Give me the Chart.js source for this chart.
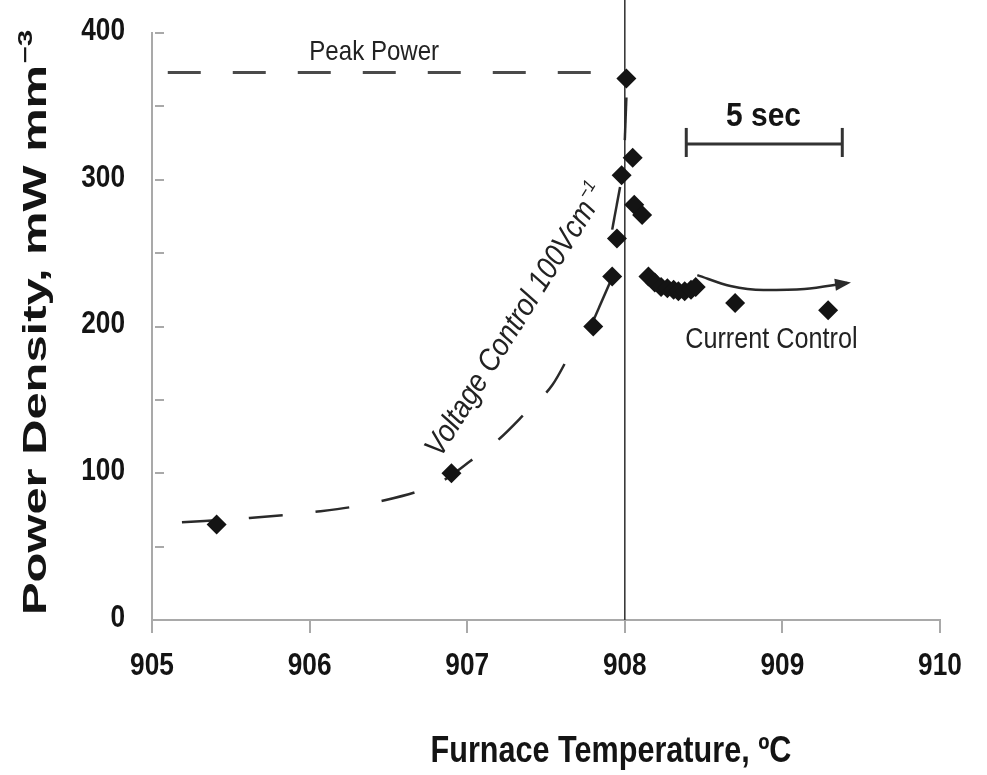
<!DOCTYPE html>
<html>
<head>
<meta charset="utf-8">
<title>Power density vs furnace temperature</title>
<script src="https://cdn.jsdelivr.net/npm/chart.js@4.4.1/dist/chart.umd.min.js"></script>
<style>
  html, body { margin: 0; padding: 0; background: #fff; }
  #wrap { width: 987px; height: 775px; }
</style>
</head>
<body>
<div id="wrap"><canvas id="powerChart" width="987" height="775"></canvas></div>
<script>
// measured points: furnace temperature (C) and power density (mW mm^-3)
const tempC = [905.41, 906.90, 907.80, 907.92, 907.95, 907.98, 908.01, 908.05, 908.06, 908.11,
  908.15, 908.19, 908.23, 908.27, 908.31, 908.34, 908.38, 908.42, 908.45, 908.70, 909.29];
const powerDensity = [65, 100, 200, 234, 260, 303, 369, 315, 283, 276,
  234, 230, 227, 226, 225, 224, 224, 225, 227, 216, 211];

// peak power level
const peakPowerX = [905.10, 907.79];
const peakPowerY = [373, 373];

// voltage control trend (dashed) and the solid pieces near the peak
const voltageX = [905.19, 905.62, 906.03, 906.43, 906.83, 907.02, 907.21, 907.37, 907.54, 907.67];
const voltageY = [66.6, 69.5, 73.6, 80.4, 94.0, 108.3, 124.0, 141.1, 160.1, 185.0];
const rampSegX = [[907.80, 907.91], [907.92, 907.97], [908.00, 908.01]];
const rampSegY = [[204, 231], [266, 295], [327, 356]];

// current control arrow
const currentX = [908.46, 908.67, 908.88, 909.14, 909.41];
const currentY = [235, 227.6, 224.9, 225.6, 229.6];

// 5 sec scale bar
const scaleBarX = [908.39, 909.38];
const scaleBarY = 324.4;
const scaleBarCap = [315.5, 335.3];

// switch from voltage to current control
const switchTemp = 908.0;

const xTicks = [905, 906, 907, 908, 909, 910];
const yMin = 0, yMax = 400, yStep = 50, yLabelStep = 100;

// no condensed font installed, so text is squeezed with a transform
const FONT = '"Liberation Sans", Arial, sans-serif';
const INK = '#141414';
const AXIS = '#a9a9a9';

const toXY = (xs, ys) => xs.map((x, i) => ({ x: x, y: Array.isArray(ys) ? ys[i] : ys }));

function lineSet(data, color, width, dash) {
  return {
    type: 'line',
    data: data,
    borderColor: color,
    borderWidth: width,
    borderDash: dash || [],
    pointRadius: 0,
    fill: false,
    showLine: true
  };
}

// text with horizontal squeeze sx
function squeezed(ctx, txt, x, y, font, sx, align, baseline) {
  ctx.save();
  ctx.translate(x, y);
  ctx.scale(sx, 1);
  ctx.font = font;
  ctx.textAlign = align || 'center';
  ctx.textBaseline = baseline || 'middle';
  ctx.fillText(txt, 0, 0);
  ctx.restore();
}

const datasets = [
  {
    type: 'scatter',
    data: toXY(tempC, powerDensity),
    pointStyle: 'rectRot',
    pointRadius: 10,
    backgroundColor: INK,
    borderColor: INK,
    borderWidth: 0
  },
  lineSet(toXY(peakPowerX, peakPowerY), '#4a4a4a', 3, [33, 32]),
  Object.assign(lineSet(toXY(voltageX, voltageY), '#2a2a2a', 2.5, [34, 33]), { cubicInterpolationMode: 'monotone' }),
  ...rampSegX.map((sx, i) => lineSet(toXY(sx, rampSegY[i]), '#2a2a2a', 2.5)),
  Object.assign(lineSet(toXY(currentX, currentY), '#2a2a2a', 2.5), { cubicInterpolationMode: 'monotone' }),
  lineSet(toXY(scaleBarX, scaleBarY), '#333', 3),
  lineSet(toXY([scaleBarX[0], scaleBarX[0]], scaleBarCap), '#333', 3),
  lineSet(toXY([scaleBarX[1], scaleBarX[1]], scaleBarCap), '#333', 3)
];

// extra drawing: inward y ticks, switch line, tick labels, arrow head, labels
const annotate = {
  id: 'annotate',
  beforeDatasetsDraw(chart) {
    const ctx = chart.ctx, xs = chart.scales.x, ys = chart.scales.y;
    ctx.save();
    ctx.strokeStyle = AXIS;
    ctx.lineWidth = 2;
    ys.ticks.forEach(t => {
      const y = Math.round(ys.getPixelForValue(t.value));
      ctx.beginPath();
      ctx.moveTo(xs.left + 3, y);
      ctx.lineTo(xs.left + 12, y);
      ctx.stroke();
    });
    const vx = xs.getPixelForValue(switchTemp);
    ctx.strokeStyle = '#3a3a3a';
    ctx.lineWidth = 1.6;
    ctx.beginPath();
    ctx.moveTo(vx, ys.bottom);
    ctx.lineTo(vx, 0);
    ctx.stroke();
    ctx.restore();
  },
  afterDraw(chart) {
    const ctx = chart.ctx, xs = chart.scales.x, ys = chart.scales.y;
    const px = v => xs.getPixelForValue(v);
    const py = v => ys.getPixelForValue(v);
    ctx.save();

    // tick labels
    ctx.fillStyle = INK;
    xs.ticks.forEach(t => {
      squeezed(ctx, String(t.value), px(t.value), 666, 'bold 32px ' + FONT, 0.82);
    });
    ys.ticks.forEach(t => {
      if (t.value % yLabelStep !== 0) return;
      squeezed(ctx, String(t.value), 125, py(t.value) - 2, 'bold 32px ' + FONT, 0.82, 'right');
    });

    // arrow head at end of current control line
    const n = currentX.length;
    const ex = px(currentX[n - 1]), ey = py(currentY[n - 1]);
    const bx = px(currentX[n - 2]), by = py(currentY[n - 2]);
    const a = Math.atan2(ey - by, ex - bx);
    ctx.fillStyle = '#2a2a2a';
    ctx.beginPath();
    ctx.moveTo(ex + 4 * Math.cos(a), ey + 4 * Math.sin(a));
    ctx.lineTo(ex - 12 * Math.cos(a) - 6 * Math.sin(a), ey - 12 * Math.sin(a) + 6 * Math.cos(a));
    ctx.lineTo(ex - 12 * Math.cos(a) + 6 * Math.sin(a), ey - 12 * Math.sin(a) - 6 * Math.cos(a));
    ctx.closePath();
    ctx.fill();

    ctx.fillStyle = '#222';
    squeezed(ctx, 'Peak Power', px(906.41), py(387), '28px ' + FONT, 0.86);
    squeezed(ctx, 'Current Control', px(908.93), py(191), '30px ' + FONT, 0.84);
    ctx.fillStyle = INK;
    squeezed(ctx, '5 sec', px(908.88), py(343), 'bold 34px ' + FONT, 0.88);

    // rotated voltage control label
    ctx.save();
    ctx.fillStyle = '#222';
    ctx.translate(px(907.36), py(201));
    ctx.rotate(-58 * Math.PI / 180);
    ctx.scale(0.88, 1);
    ctx.textBaseline = 'alphabetic';
    ctx.textAlign = 'left';
    ctx.font = 'italic 31px ' + FONT;
    const mainTxt = 'Voltage Control 100Vcm';
    const mw = ctx.measureText(mainTxt).width;
    ctx.font = 'italic 18px ' + FONT;
    const sw = ctx.measureText('\u22121').width;
    const start = -(mw + sw + 2) / 2;
    ctx.font = 'italic 31px ' + FONT;
    ctx.fillText(mainTxt, start, 0);
    ctx.font = 'italic 18px ' + FONT;
    ctx.fillText('\u22121', start + mw + 2, -13);
    ctx.restore();

    // y axis title, stretched along its length like the original
    ctx.save();
    ctx.fillStyle = INK;
    ctx.translate(46, 615);
    ctx.rotate(-Math.PI / 2);
    ctx.scale(1.48, 1);
    ctx.textAlign = 'left';
    ctx.textBaseline = 'alphabetic';
    ctx.font = 'bold 33px ' + FONT;
    const yt = 'Power Density, mW mm';
    const yw = ctx.measureText(yt).width;
    ctx.fillText(yt, 0, 0);
    ctx.font = 'bold 20px ' + FONT;
    ctx.fillText('\u22123', yw + 1, -14);
    ctx.restore();

    // x axis title
    ctx.fillStyle = INK;
    squeezed(ctx, 'Furnace Temperature, \u00baC', 611, 752, 'bold 36px ' + FONT, 0.85);

    ctx.restore();
  }
};

new Chart(document.getElementById('powerChart'), {
  type: 'scatter',
  data: { datasets: datasets },
  options: {
    responsive: false,
    animation: false,
    layout: { padding: { left: 0, top: 33, right: 47, bottom: 0 } },
    plugins: {
      legend: { display: false },
      tooltip: { enabled: false }
    },
    scales: {
      x: {
        type: 'linear',
        min: xTicks[0],
        max: xTicks[xTicks.length - 1],
        afterFit: s => { s.height = 155; },
        afterBuildTicks: s => { s.ticks = xTicks.map(v => ({ value: v })); },
        ticks: { display: false },
        grid: { drawOnChartArea: false, drawTicks: true, tickLength: 13, color: AXIS, lineWidth: 2 },
        border: { display: true, color: AXIS, width: 2 }
      },
      y: {
        type: 'linear',
        min: yMin,
        max: yMax,
        afterFit: s => { s.width = 152; },
        ticks: { display: false, stepSize: yStep },
        grid: { drawOnChartArea: false, drawTicks: false },
        border: { display: true, color: AXIS, width: 2 }
      }
    }
  },
  plugins: [annotate]
});
</script>
</body>
</html>
